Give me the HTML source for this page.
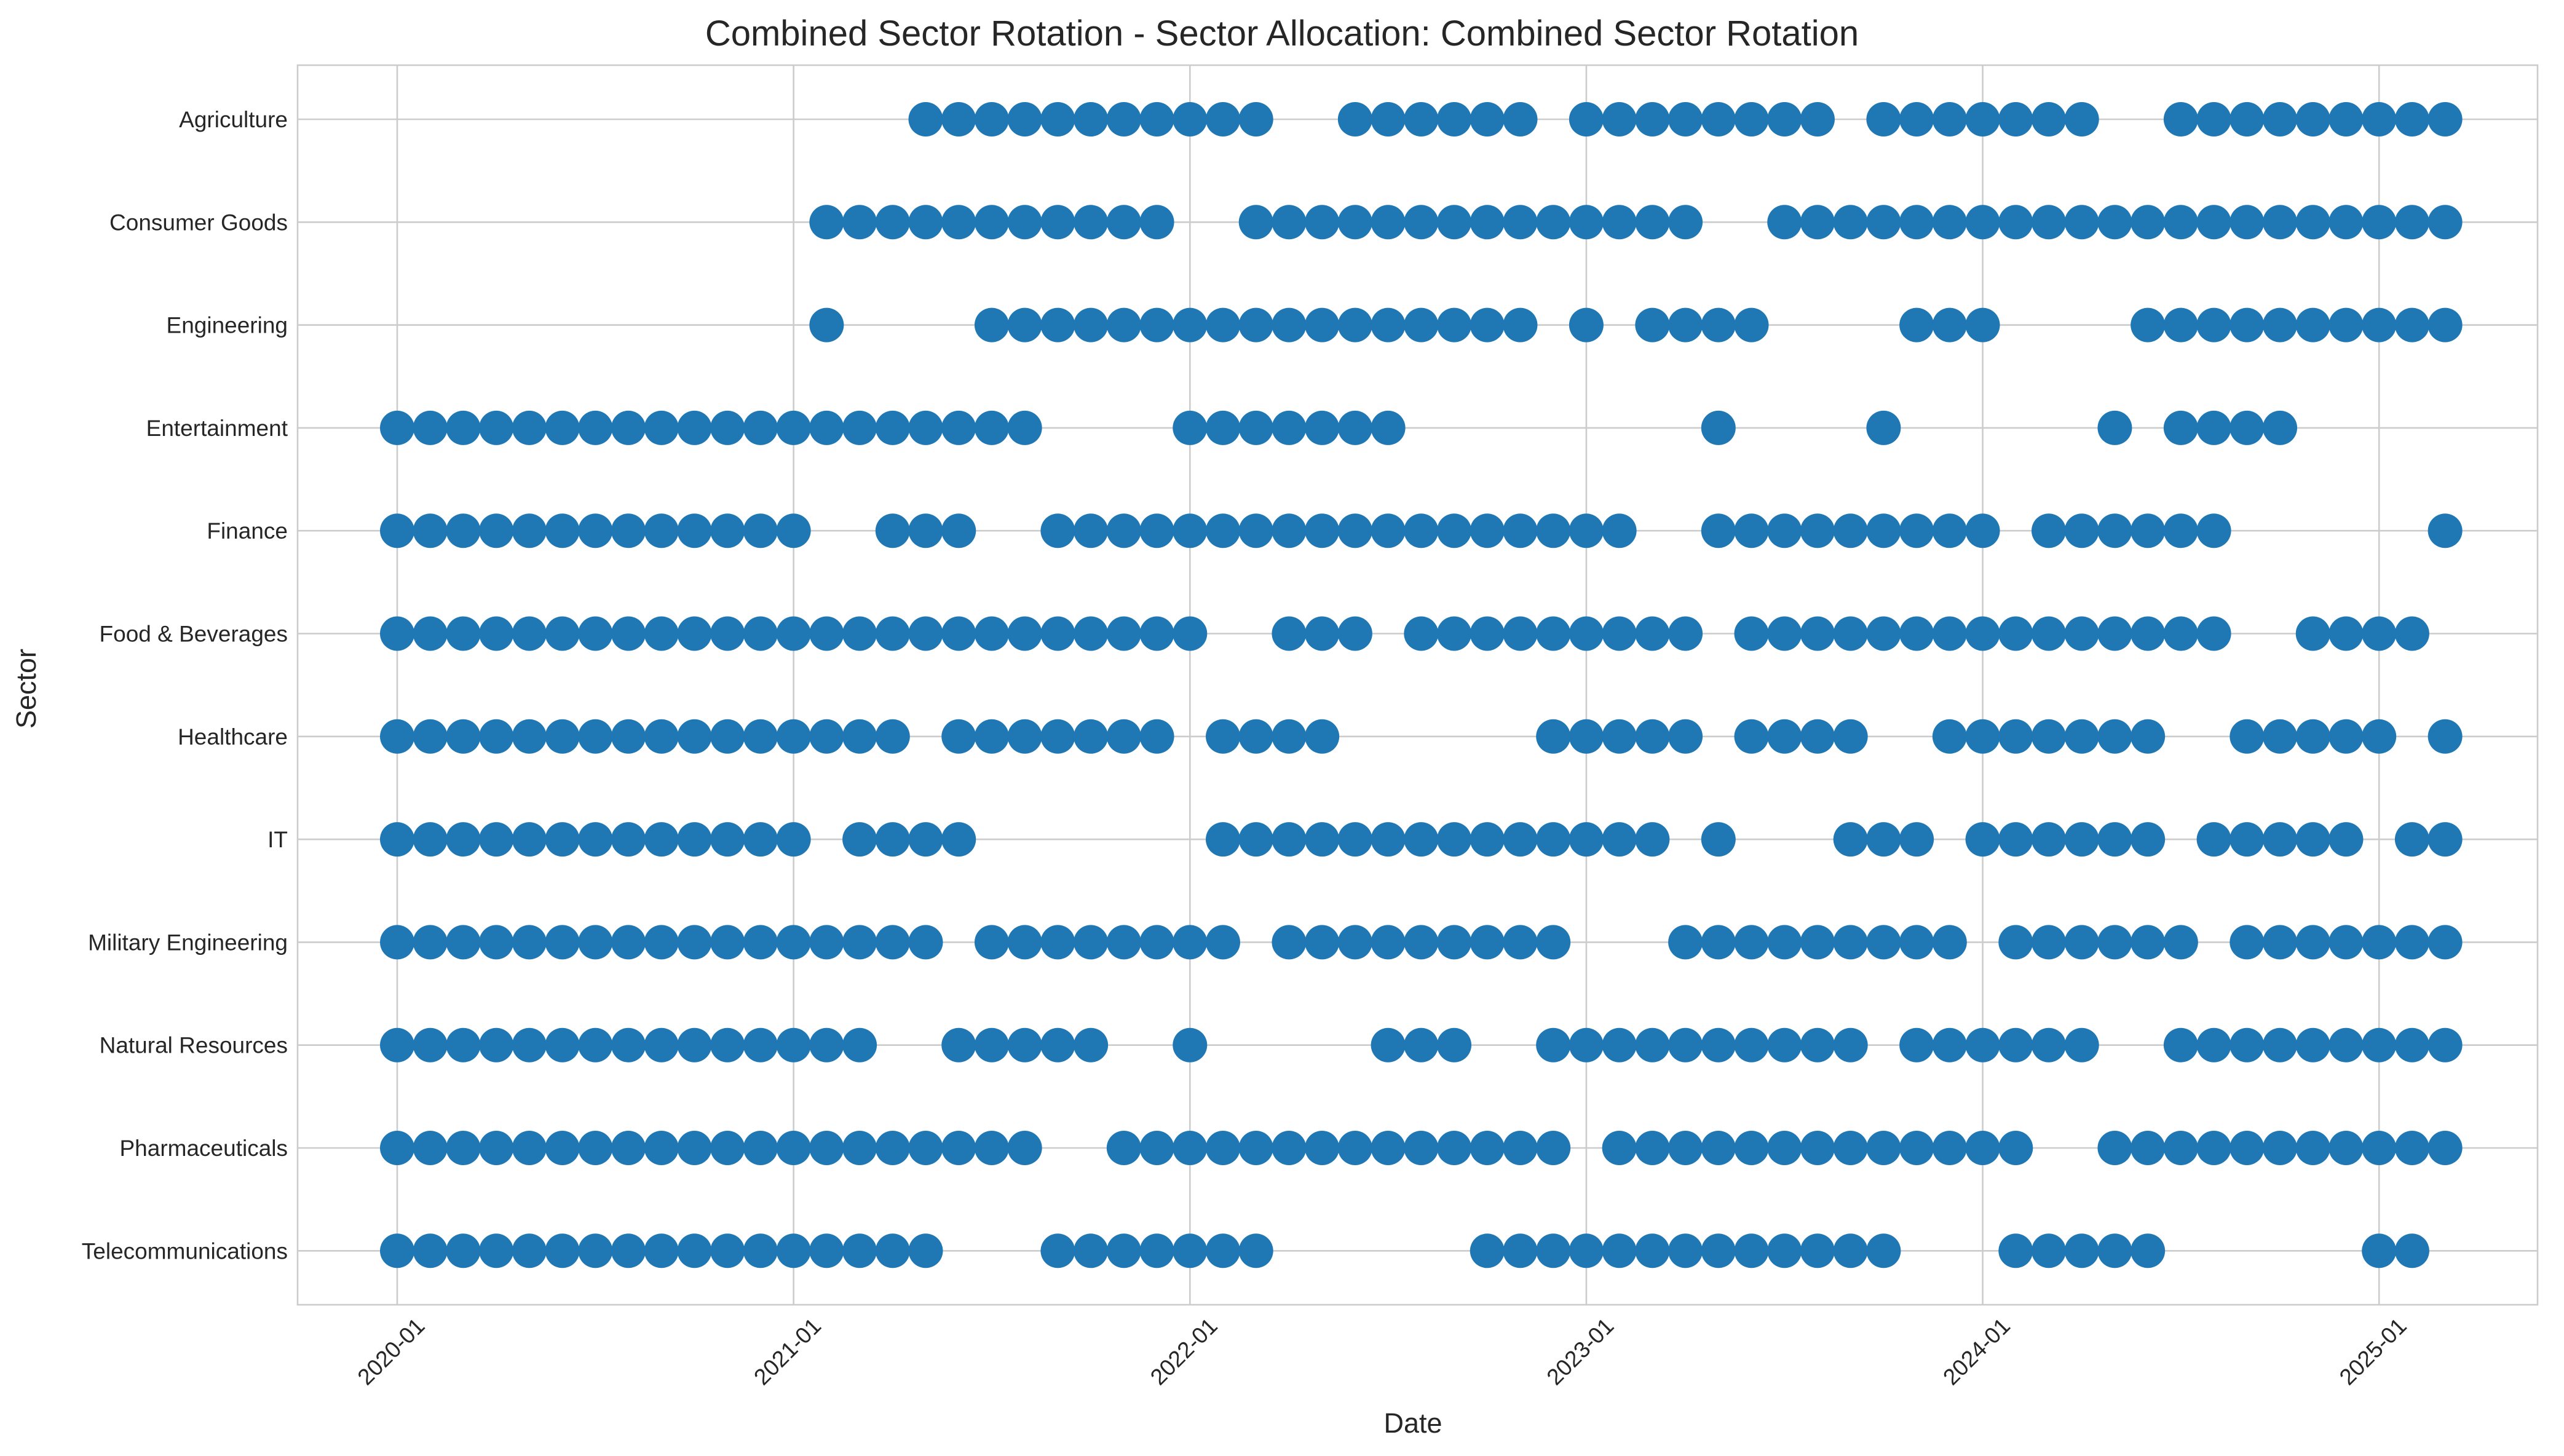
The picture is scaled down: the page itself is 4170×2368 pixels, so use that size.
<!DOCTYPE html>
<html><head><meta charset="utf-8">
<style>
html,body{margin:0;padding:0;background:#fff;}
svg{display:block;font-family:"Liberation Sans","DejaVu Sans",sans-serif;}
</style></head>
<body>
<svg id="chart" width="4170" height="2368" viewBox="0 0 4170 2368" xmlns="http://www.w3.org/2000/svg">
<rect x="0" y="0" width="4170" height="2368" fill="#fff"/>
<g id="grid"></g>
<g id="marks"></g>
<rect x="484" y="106" width="3643" height="2016" fill="none" stroke="#cccccc" stroke-width="2.6"/>
<g id="yticks"></g>
<g id="xticks"></g>
<text x="2085" y="74" font-size="58" text-anchor="middle" fill="#262626">Combined Sector Rotation - Sector Allocation: Combined Sector Rotation</text>
<text x="2298" y="2330" font-size="45" text-anchor="middle" fill="#262626">Date</text>
<text x="0" y="0" font-size="45" text-anchor="middle" fill="#262626" transform="translate(58,1120) rotate(-90)">Sector</text>
</svg>
<script>
const sectors = ["Agriculture","Consumer Goods","Engineering","Entertainment","Finance","Food & Beverages","Healthcare","IT","Military Engineering","Natural Resources","Pharmaceuticals","Telecommunications"];
const tickLabels = ["2020-01","2021-01","2022-01","2023-01","2024-01","2025-01"];
const tickMonths = [0,12,24,36,48,60];
// active month ranges (month index from 2020-01) per sector, as [start,end] inclusive
const agriculture = [[16,26],[29,34],[36,43],[45,51],[54,62]];
const consumerGoods = [[13,23],[26,39],[42,62]];
const engineering = [[13,13],[18,34],[36,36],[38,41],[46,48],[53,62]];
const entertainment = [[0,19],[24,30],[40,40],[45,45],[52,52],[54,57]];
const finance = [[0,12],[15,17],[20,37],[40,48],[50,55],[62,62]];
const foodBeverages = [[0,24],[27,29],[31,39],[41,55],[58,61]];
const healthcare = [[0,15],[17,23],[25,28],[35,39],[41,44],[47,53],[56,60],[62,62]];
const itSector = [[0,12],[14,17],[25,38],[40,40],[44,46],[48,53],[55,59],[61,62]];
const militaryEng = [[0,16],[18,25],[27,35],[39,47],[49,54],[56,62]];
const naturalRes = [[0,14],[17,21],[24,24],[30,32],[35,44],[46,51],[54,62]];
const pharma = [[0,19],[22,35],[37,49],[52,62]];
const telecom = [[0,16],[20,26],[33,45],[49,53],[60,61]];
const seriesList = [agriculture,consumerGoods,engineering,entertainment,finance,foodBeverages,healthcare,itSector,militaryEng,naturalRes,pharma,telecom];

const NS = "http://www.w3.org/2000/svg";
const X0 = 646, MONTH = 53.72, PL = 484, PR = 4127, PT = 106, PB = 2122;
function xScale(m){ return X0 + m*MONTH; }
function yScale(i){ return 194 + i*167.3; }

const grid = document.getElementById('grid');
const marks = document.getElementById('marks');
const yt = document.getElementById('yticks');
const xt = document.getElementById('xticks');

sectors.forEach((s,i)=>{
  const y = yScale(i);
  const l = document.createElementNS(NS,'line');
  l.setAttribute('x1',PL); l.setAttribute('x2',PR); l.setAttribute('y1',y); l.setAttribute('y2',y);
  l.setAttribute('stroke','#cccccc'); l.setAttribute('stroke-width','2.6');
  
  
  grid.appendChild(l);
  const t = document.createElementNS(NS,'text');
  t.setAttribute('x',468); t.setAttribute('y',y+13);
  t.setAttribute('font-size','37'); t.setAttribute('text-anchor','end'); t.setAttribute('fill','#262626');
  t.textContent = s;
  
  
  yt.appendChild(t);
});

tickMonths.forEach((m,i)=>{
  const x = xScale(m);
  const l = document.createElementNS(NS,'line');
  l.setAttribute('x1',x); l.setAttribute('x2',x); l.setAttribute('y1',PT); l.setAttribute('y2',PB);
  l.setAttribute('stroke','#cccccc'); l.setAttribute('stroke-width','2.6');
  
  
  grid.appendChild(l);
  const t = document.createElementNS(NS,'text');
  t.setAttribute('x',0); t.setAttribute('y',0);
  t.setAttribute('font-size','37'); t.setAttribute('text-anchor','middle'); t.setAttribute('dominant-baseline','middle');
  t.setAttribute('fill','#262626');
  t.setAttribute('transform','translate('+(x-8)+',2200) rotate(-45)');
  t.textContent = tickLabels[i];
  
  
  xt.appendChild(t);
});

seriesList.forEach((ranges,i)=>{
  const y = yScale(i);
  ranges.forEach(r=>{
    for(let m=r[0]; m<=r[1]; m++){
      const c = document.createElementNS(NS,'circle');
      c.setAttribute('cx',xScale(m)); c.setAttribute('cy',y); c.setAttribute('r','28');
      c.setAttribute('fill','#1f77b4');
      
      
      marks.appendChild(c);
    }
  });
});
</script>
</body></html>
